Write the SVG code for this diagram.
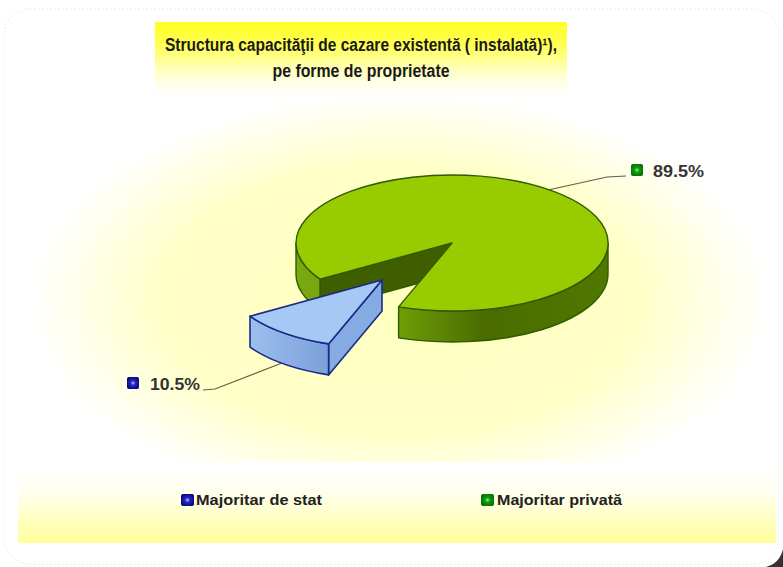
<svg xmlns="http://www.w3.org/2000/svg" width="783" height="567" viewBox="0 0 783 567">
<style>
.title{font-family:"Liberation Sans",Arial,sans-serif;font-weight:bold;font-size:18px;fill:#1a1a1a;text-anchor:middle}
.lbl{font-family:"Liberation Sans",Arial,sans-serif;font-weight:bold;font-size:17px;fill:#333}
.leg{font-family:"Liberation Sans",Arial,sans-serif;font-weight:bold;font-size:15px;fill:#222}
.lead{fill:none;stroke:#5f5f45;stroke-width:1.2}
.gEdge{stroke:#2f5c00;stroke-width:1.4;stroke-linejoin:round}
.bEdge{stroke:#1b2a86;stroke-width:1.6;stroke-linejoin:round}
</style>
<defs>
<radialGradient id="plotBg" cx="400" cy="300" r="370" gradientUnits="userSpaceOnUse" gradientTransform="translate(400 300) scale(1 0.56) translate(-400 -300)">
<stop offset="0" stop-color="#FFFFC0"/>
<stop offset="0.65" stop-color="#FFFFC8"/>
<stop offset="1" stop-color="#FFFFFF"/>
</radialGradient>
<linearGradient id="titleBg" x1="0" y1="22" x2="0" y2="100" gradientUnits="userSpaceOnUse">
<stop offset="0" stop-color="#FFFF22"/>
<stop offset="0.3" stop-color="#FFFF55"/>
<stop offset="0.6" stop-color="#FFFFB8"/>
<stop offset="1" stop-color="#FFFFF0" stop-opacity="0"/>
</linearGradient>
<linearGradient id="legBg" x1="0" y1="466" x2="0" y2="544" gradientUnits="userSpaceOnUse">
<stop offset="0" stop-color="#FFFFFF"/>
<stop offset="0.35" stop-color="#FFFFEE"/>
<stop offset="1" stop-color="#FFFF99"/>
</linearGradient>
<linearGradient id="gWall" x1="296" y1="0" x2="608" y2="0" gradientUnits="userSpaceOnUse">
<stop offset="0" stop-color="#7AAA10"/>
<stop offset="0.33" stop-color="#6E9E06"/>
<stop offset="0.6" stop-color="#4A6C00"/>
<stop offset="1" stop-color="#507800"/>
</linearGradient>
<linearGradient id="bWall" x1="250" y1="0" x2="330" y2="0" gradientUnits="userSpaceOnUse">
<stop offset="0" stop-color="#9CBEEE"/>
<stop offset="1" stop-color="#7A9FDA"/>
</linearGradient>
<radialGradient id="mBlue" cx="0.5" cy="0.5" r="0.6">
<stop offset="0" stop-color="#C8D0FF"/>
<stop offset="0.3" stop-color="#2A2AC8"/>
<stop offset="1" stop-color="#000070"/>
</radialGradient>
<radialGradient id="mGreen" cx="0.5" cy="0.5" r="0.6">
<stop offset="0" stop-color="#B8F0B0"/>
<stop offset="0.3" stop-color="#10A010"/>
<stop offset="1" stop-color="#006A00"/>
</radialGradient>
</defs>

<!-- background and frame -->
<rect x="0" y="0" width="783" height="567" fill="#FFFFFF"/>
<path d="M783,549 L783,567 L766,567 Q780,563 783,549 Z" fill="#333"/>
<rect x="4" y="9" width="775" height="555" rx="26" fill="#FFFFFF" stroke="#EBEBEB" stroke-width="1" stroke-dasharray="2 2"/>
<rect x="20" y="96" width="745" height="366" fill="url(#plotBg)"/>
<rect x="18" y="466" width="758" height="77" fill="url(#legBg)"/>

<!-- title -->
<g id="title">
<rect x="155" y="22" width="412" height="78" fill="url(#titleBg)"/>
<text class="title" x="361" y="51" textLength="392" lengthAdjust="spacingAndGlyphs">Structura capacităţii de cazare existentă ( instalată)¹),</text>
<text class="title" x="361" y="77" textLength="177" lengthAdjust="spacingAndGlyphs">pe forme de proprietate</text>
</g>

<!-- connectors (leader lines) -->
<g id="connectors">
<polyline class="lead" points="626,176 607,177 548,190"/>
<polyline class="lead" points="203,390 215,389 282,363"/>
</g>

<!-- green slice: Majoritar privata -->
<g id="slice-privata">
<path class="gEdge" fill="#3E5E00" d="M452,243 L320.0,279.2 L320.0,310.2 L452,274 Z"/>
<path class="gEdge" fill="url(#gWall)" d="M608,243 A156,68 0 0 1 398.6,306.9 L398.6,337.9 A156,68 0 0 0 608,274 Z"/>
<path class="gEdge" fill="url(#gWall)" d="M320.0,279.2 A156,68 0 0 1 296,243 L296,274 A156,68 0 0 0 320.0,310.2 Z"/>
<path class="gEdge" fill="#99CC00" d="M452,243 L320.0,279.2 A156,68 0 1 1 398.6,306.9 Z"/>
</g>

<!-- blue slice: Majoritar de stat -->
<g id="slice-stat">
<path class="bEdge" fill="#86AAE2" d="M382,280 L328.6,343.9 L328.6,374.9 L382,311 Z"/>
<path class="bEdge" fill="url(#bWall)" d="M328.6,343.9 A156,68 0 0 1 250.0,316.2 L250.0,347.2 A156,68 0 0 0 328.6,374.9 Z"/>
<path class="bEdge" fill="#A6C8F4" d="M382,280 L328.6,343.9 A156,68 0 0 1 250.0,316.2 Z"/>
</g>

<!-- data labels -->
<g id="label-89">
<rect x="631" y="164" width="12" height="12" rx="2" fill="url(#mGreen)"/>
<text class="lbl" x="653" y="177" textLength="51" lengthAdjust="spacingAndGlyphs">89.5%</text>
</g>
<g id="label-10">
<rect x="127" y="377" width="12" height="12" rx="2" fill="url(#mBlue)"/>
<text class="lbl" x="150" y="390" textLength="50" lengthAdjust="spacingAndGlyphs">10.5%</text>
</g>

<!-- legend -->
<g id="legend-stat">
<rect x="181" y="494" width="13" height="12" rx="2" fill="url(#mBlue)"/>
<text class="leg" x="196" y="505" textLength="126" lengthAdjust="spacingAndGlyphs">Majoritar de stat</text>
</g>
<g id="legend-privata">
<rect x="481" y="494" width="13" height="12" rx="2" fill="url(#mGreen)"/>
<text class="leg" x="497" y="505" textLength="125" lengthAdjust="spacingAndGlyphs">Majoritar privată</text>
</g>
</svg>
